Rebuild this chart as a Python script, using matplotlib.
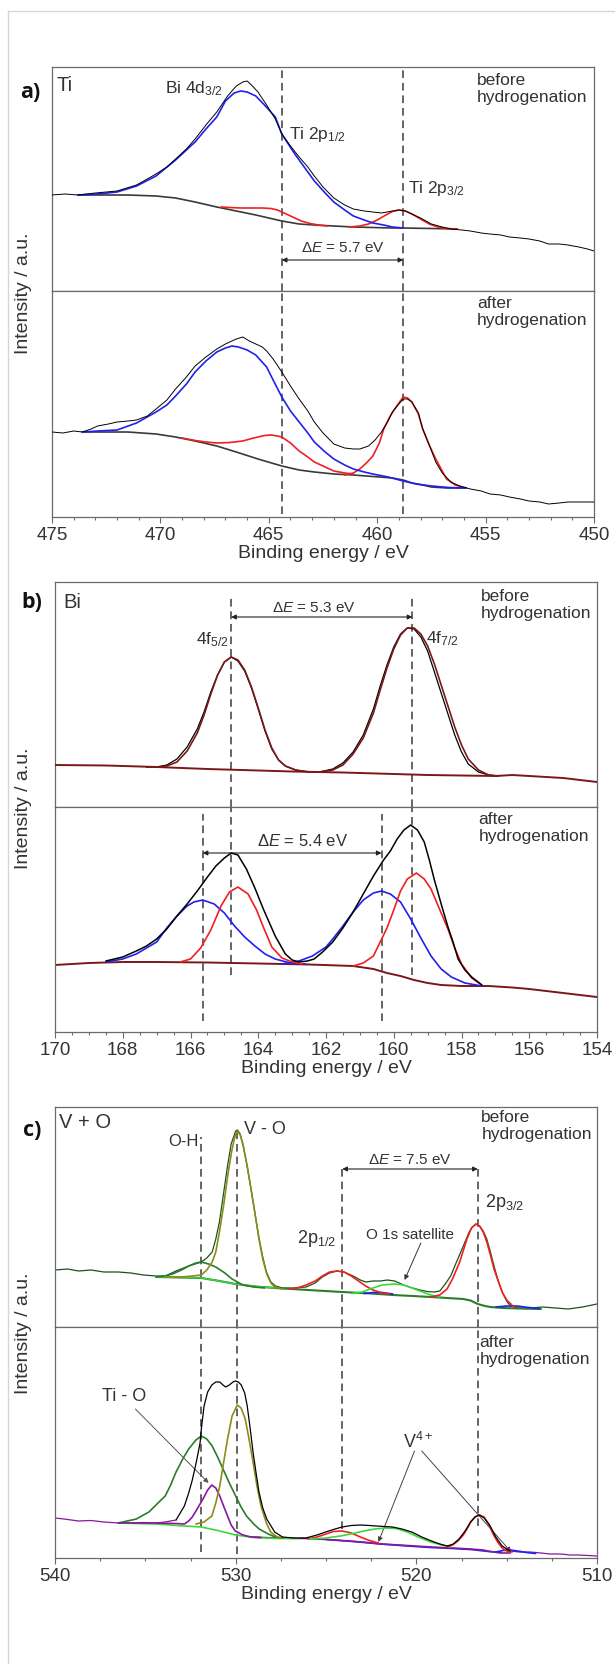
import matplotlib
matplotlib.use('Agg')
import matplotlib.pyplot as plt
from matplotlib.ticker import MultipleLocator
from matplotlib.lines import Line2D

plt.rcParams['font.family'] = ['Liberation Sans', 'DejaVu Sans']
plt.rcParams['mathtext.fontset'] = 'custom'
plt.rcParams['mathtext.rm'] = 'Liberation Sans'
plt.rcParams['mathtext.it'] = 'Liberation Sans:italic'
plt.rcParams['mathtext.bf'] = 'Liberation Sans:bold'

# ---------------- data (binding energy eV, intensity a.u.) ----------------
# Panel a, before hydrogenation
a1_data = [(475.0, 96), (474.4, 97), (473.8, 96), (473.0, 98), (472.0, 100), (471.1, 106), (470.2, 117),
           (469.7, 124), (469.3, 132), (468.8, 142), (468.4, 152), (467.9, 166), (467.4, 179), (466.9, 195),
           (466.5, 205), (466.2, 209), (466.0, 210), (465.8, 206), (465.5, 199), (465.1, 186), (464.7, 172),
           (464.4, 157), (464.0, 145), (463.6, 134), (463.2, 124), (462.9, 115), (462.5, 104), (462.0, 93),
           (461.5, 86), (461.1, 82), (460.6, 80), (460.2, 79), (459.8, 78), (459.3, 80), (459.0, 81),
           (458.7, 80), (458.4, 77), (458.0, 73), (457.5, 67), (457.0, 64), (456.6, 62), (456.1, 61),
           (455.7, 60), (455.2, 58), (454.8, 57), (454.3, 56), (453.9, 54), (453.4, 53), (453.0, 52),
           (452.5, 50), (452.1, 47), (451.6, 47), (451.2, 46), (450.7, 44), (450.3, 42), (450.0, 40)]
a1_bi4d = [(473.8, 96), (472.9, 97), (472.0, 99), (471.1, 105), (470.2, 115), (469.3, 131), (468.4, 149),
           (467.9, 162), (467.4, 174), (467.0, 190), (466.6, 198), (466.3, 200), (466.0, 199), (465.6, 195),
           (465.2, 186), (464.7, 174), (464.4, 157), (463.8, 137), (463.3, 122), (462.9, 110), (462.4, 98),
           (462.0, 89), (461.5, 81), (461.1, 75), (460.6, 71), (460.2, 68), (459.7, 66), (459.3, 64), (458.8, 63)]
a1_bg = [(473.8, 96), (471.5, 96), (470.2, 95), (469.3, 93), (468.4, 89), (467.4, 84), (466.5, 80), (465.6, 76),
         (464.4, 70), (463.6, 67), (462.9, 66), (462.0, 65), (461.1, 64), (460.2, 63.5), (459.3, 63),
         (458.8, 63), (457.5, 62.5), (456.3, 62)]
a1_ti2p12 = [(467.2, 84), (466.8, 83.5), (466.3, 83), (465.8, 83), (465.3, 83), (464.9, 82.5), (464.6, 81),
             (464.3, 78), (463.9, 74), (463.5, 70), (463.1, 67.5), (462.7, 66), (462.3, 65)]
a1_ti2p32 = [(461.3, 64), (460.8, 65), (460.4, 67), (460.0, 71), (459.6, 76), (459.3, 79.5), (459.0, 81),
             (458.7, 80), (458.4, 77), (458.0, 72), (457.6, 67), (457.2, 64), (456.8, 62.5), (456.3, 62)]

# Panel a, after hydrogenation
a2_data = [(475.0, 85), (474.5, 84), (474.0, 86), (473.6, 85), (473.2, 88), (472.9, 91), (472.4, 93),
           (472.0, 95), (471.5, 96), (471.1, 97), (470.6, 101), (470.2, 108), (469.7, 117), (469.3, 128),
           (468.8, 140), (468.4, 151), (467.9, 160), (467.4, 168), (467.0, 173), (466.5, 178), (466.2, 180),
           (465.9, 176), (465.6, 173), (465.3, 170), (465.1, 166), (464.8, 158), (464.4, 145), (464.0, 131),
           (463.6, 118), (463.2, 106), (462.9, 95), (462.5, 84), (462.0, 73), (461.5, 69), (461.1, 68),
           (460.8, 68), (460.4, 71), (460.1, 77), (459.8, 85), (459.5, 96), (459.3, 105), (459.0, 113),
           (458.8, 118), (458.6, 118), (458.4, 115), (458.1, 104), (457.9, 88), (457.6, 72), (457.3, 55),
           (457.0, 44), (456.6, 35), (456.2, 31), (455.7, 28), (455.2, 26), (454.8, 23), (454.3, 22),
           (453.9, 20), (453.4, 18), (453.0, 16), (452.5, 15), (452.1, 13), (451.6, 14), (451.2, 15),
           (450.6, 15), (450.0, 15)]
a2_bi4d = [(473.6, 85), (472.9, 86), (472.0, 87), (471.1, 94), (470.2, 105), (469.7, 112), (469.3, 121),
           (468.8, 133), (468.4, 145), (467.9, 156), (467.4, 165), (467.0, 169), (466.7, 171), (466.4, 170),
           (466.0, 167), (465.6, 162), (465.1, 150), (464.8, 137), (464.4, 120), (464.0, 106), (463.6, 95),
           (463.2, 84), (462.9, 75), (462.4, 65), (462.0, 58), (461.5, 52), (461.1, 48), (460.6, 45),
           (460.2, 43), (459.5, 40), (458.8, 36), (458.2, 33), (457.5, 31), (456.7, 29.5), (455.9, 29)]
a2_bg = [(473.6, 85), (471.5, 85), (470.2, 83), (469.3, 80), (468.4, 76), (467.4, 71), (466.5, 65), (465.5, 58),
         (464.4, 51), (463.6, 47), (462.9, 45), (462.0, 43), (461.1, 42), (460.2, 40.5), (459.3, 39),
         (458.8, 37), (458.4, 34), (457.9, 32), (457.5, 30), (456.8, 29), (455.9, 29)]
a2_ti2p12 = [(469.0, 79), (468.4, 76.5), (467.9, 75), (467.4, 74), (466.8, 74.5), (466.2, 76), (465.7, 79),
             (465.2, 81.5), (464.9, 82), (464.6, 81), (464.4, 80), (464.0, 74), (463.6, 66), (463.2, 60),
             (462.9, 55), (462.4, 50), (462.0, 46), (461.5, 44), (461.1, 43)]
a2_ti2p32 = [(461.5, 42), (461.1, 44), (460.8, 48), (460.5, 54), (460.2, 61), (459.9, 74), (459.7, 88),
             (459.4, 101), (459.1, 111), (458.8, 120), (458.6, 119), (458.4, 115), (458.1, 103), (457.9, 88),
             (457.6, 72), (457.3, 58), (457.0, 46), (456.8, 38), (456.4, 32), (455.9, 29)]

# Panel b, before hydrogenation
b1_data = [(167.3, 40), (167.0, 40), (166.7, 42), (166.4, 48), (166.1, 60), (165.8, 78), (165.6, 95),
           (165.4, 115), (165.2, 132), (165.0, 145), (164.8, 150), (164.6, 146), (164.4, 136), (164.2, 119),
           (164.0, 98), (163.8, 76), (163.6, 58), (163.4, 47), (163.2, 41), (162.9, 37), (162.5, 35),
           (162.2, 35), (161.8, 38), (161.5, 44), (161.2, 55), (160.9, 72), (160.6, 98), (160.4, 121),
           (160.2, 142), (160.0, 160), (159.8, 173), (159.6, 179), (159.4, 178), (159.2, 170), (159.0, 156),
           (158.8, 135), (158.6, 114), (158.4, 93), (158.2, 72), (158.0, 55), (157.8, 43), (157.5, 35),
           (157.2, 32), (156.9, 31)]
b1_fit = [(167.3, 40), (167.0, 40), (166.7, 41), (166.4, 45), (166.1, 56), (165.8, 74), (165.6, 92),
          (165.4, 113), (165.2, 132), (165.0, 145), (164.8, 150), (164.6, 147), (164.4, 137), (164.2, 120),
          (164.0, 99), (163.8, 77), (163.6, 59), (163.4, 47), (163.2, 41), (162.9, 37), (162.5, 35),
          (162.2, 35), (161.8, 37), (161.5, 42), (161.2, 53), (160.9, 69), (160.6, 94), (160.4, 117),
          (160.2, 139), (160.0, 158), (159.8, 172), (159.6, 179), (159.4, 179), (159.2, 173), (159.0, 161),
          (158.8, 143), (158.6, 122), (158.4, 101), (158.2, 80), (158.0, 62), (157.8, 48), (157.5, 37),
          (157.2, 32), (156.9, 31)]
b1_bg = [(170.0, 42), (168.5, 41.5), (167.0, 40), (165.5, 38), (164.5, 37), (163.0, 35.5), (161.5, 34.5),
         (160.0, 33), (159.0, 32), (158.0, 31.5), (157.0, 31), (156.5, 32), (156.0, 31), (155.0, 29),
         (154.0, 25)]

# Panel b, after hydrogenation
b2_bg = [(170.0, 67), (169.0, 69), (168.0, 70), (167.0, 70), (165.5, 69.5), (164.0, 68.5), (162.5, 67.5),
         (161.2, 66), (160.6, 63), (160.2, 59), (159.8, 56), (159.4, 52), (159.0, 49), (158.6, 47),
         (158.0, 46), (157.2, 46), (156.5, 44.5), (156.0, 43), (155.0, 39), (154.0, 35)]
b2_data = [(168.5, 71), (168.0, 75), (167.6, 81), (167.3, 86), (167.0, 93), (166.7, 103), (166.4, 116),
           (166.1, 128), (165.8, 141), (165.5, 155), (165.25, 166), (165.0, 174), (164.8, 179), (164.6, 177),
           (164.35, 163), (164.1, 144), (163.85, 123), (163.5, 96), (163.2, 78), (163.0, 72), (162.8, 70),
           (162.55, 71), (162.35, 73), (162.1, 80), (161.8, 90), (161.5, 104), (161.2, 120), (160.9, 138),
           (160.6, 156), (160.3, 172), (160.1, 181), (159.9, 193), (159.7, 202), (159.5, 207), (159.3, 202),
           (159.1, 190), (158.95, 172), (158.8, 152), (158.6, 128), (158.4, 105), (158.25, 90), (158.1, 73),
           (157.9, 62), (157.7, 55), (157.4, 47)]
b2_blue1 = [(168.5, 70), (168.0, 73), (167.6, 78), (167.0, 90), (166.7, 104), (166.4, 116), (166.1, 126),
            (165.9, 130), (165.64, 132), (165.3, 128), (165.0, 119), (164.7, 106), (164.4, 95), (164.1, 86),
            (163.8, 78), (163.5, 73), (163.0, 68.5), (162.6, 68)]
b2_red1 = [(166.3, 70), (166.0, 73), (165.7, 84), (165.4, 102), (165.1, 126), (164.85, 140), (164.6, 145),
           (164.3, 138), (164.05, 122), (163.85, 105), (163.6, 85), (163.3, 74), (163.0, 70), (162.7, 68)]
b2_blue2 = [(163.3, 68), (162.8, 71), (162.4, 76), (162.0, 85), (161.8, 93), (161.5, 106), (161.2, 120),
            (160.9, 132), (160.6, 139), (160.36, 141), (160.1, 138), (159.8, 130), (159.5, 113), (159.2, 94),
            (158.9, 76), (158.6, 63), (158.3, 55), (157.9, 49), (157.4, 46)]
b2_red2 = [(161.2, 66), (160.9, 69), (160.6, 76), (160.4, 90), (160.2, 104), (160.0, 122), (159.8, 141),
           (159.6, 153), (159.33, 159), (159.1, 153), (158.9, 143), (158.7, 127), (158.4, 103), (158.2, 84),
           (158.0, 68), (157.7, 54), (157.4, 47)]

# Panel c, before hydrogenation
c1_data = [(540.0, 57), (539.3, 58), (538.7, 56), (538.0, 57), (537.3, 55), (536.5, 55), (535.8, 54),
           (535.1, 52), (534.4, 51), (533.9, 51), (533.3, 56), (532.6, 61), (531.9, 65), (531.6, 69),
           (531.3, 75), (531.1, 88), (530.9, 105), (530.7, 130), (530.45, 161), (530.25, 183), (530.0, 196),
           (529.9, 197), (529.75, 193), (529.6, 183), (529.4, 164), (529.15, 138), (528.9, 110), (528.7, 88),
           (528.5, 70), (528.3, 55), (528.05, 45), (527.8, 41), (527.4, 39), (526.8, 39), (526.1, 40),
           (525.6, 44), (525.2, 50), (524.8, 54), (524.4, 56), (524.0, 55), (523.5, 51), (523.1, 47),
           (522.8, 45), (522.4, 46), (522.0, 46), (521.6, 47), (521.2, 46), (520.7, 42), (520.2, 39),
           (519.8, 37), (519.4, 35.5), (519.0, 35), (518.7, 36), (518.4, 43), (518.1, 51), (517.8, 64),
           (517.4, 81), (517.1, 94), (516.9, 100), (516.7, 103), (516.5, 101), (516.3, 96), (516.1, 88),
           (515.9, 75), (515.7, 61), (515.5, 48), (515.25, 35), (515.0, 26), (514.8, 21), (514.3, 19),
           (513.7, 19), (513.0, 20), (512.3, 19), (511.6, 18), (510.8, 20), (510.0, 23)]
c1_vo = [(533.9, 50), (533.0, 50), (532.4, 51), (531.9, 52), (531.6, 57), (531.3, 65), (531.1, 75), (530.9, 95),
         (530.67, 121), (530.45, 150), (530.23, 175), (530.05, 190), (529.91, 196), (529.75, 192),
         (529.58, 181), (529.35, 160), (529.15, 138), (528.9, 110), (528.71, 88), (528.5, 68), (528.28, 53),
         (528.05, 44), (527.84, 40), (527.41, 38)]
c1_oh = [(534.4, 50), (533.9, 51), (533.5, 53), (533.0, 57), (532.6, 61), (532.2, 64), (531.9, 65), (531.5, 63),
         (531.1, 60), (530.6, 54), (530.2, 48), (529.6, 42), (529.0, 40), (528.4, 39)]
c1_bg = [(534.4, 50), (533.0, 49.5), (531.9, 49), (530.9, 46), (530.0, 43), (528.9, 40.5), (527.8, 39),
         (526.0, 37), (524.1, 35), (522.5, 33.5), (521.3, 32), (520.2, 31), (519.2, 30), (518.3, 29),
         (517.4, 28), (517.0, 26.5), (516.6, 23), (516.2, 21), (515.9, 20), (515.2, 19), (514.3, 18.5),
         (513.1, 18)]
c1_v2p12 = [(527.0, 38), (526.5, 39.5), (526.1, 42), (525.6, 46), (525.2, 51), (524.8, 55), (524.4, 56),
            (524.0, 55), (523.6, 51), (523.2, 46), (522.8, 41), (522.4, 37), (521.9, 34), (521.5, 33)]
c1_sat = [(523.6, 33.5), (523.0, 35), (522.4, 39), (521.9, 42), (521.2, 43), (520.7, 42), (520.25, 39),
          (519.8, 36), (519.2, 32), (518.7, 30)]
c1_v4a = [(522.9, 33.5), (522.4, 34.5), (521.9, 34.5), (521.3, 33)]
c1_v4b = [(515.6, 20), (515.0, 21), (514.4, 21), (513.8, 19.5), (513.2, 18.5)]
c1_v2p32 = [(519.2, 30), (518.7, 32), (518.3, 38), (518.0, 48), (517.6, 65), (517.2, 88), (516.95, 99),
            (516.7, 103), (516.5, 101), (516.3, 95), (516.1, 85), (515.9, 72), (515.7, 58), (515.45, 45),
            (515.25, 35), (515.0, 27), (514.6, 20)]

# Panel c, after hydrogenation
c2_data_left = [(540.0, 40), (539.5, 39), (538.7, 37), (538.0, 37.5), (537.3, 36), (536.5, 35), (535.8, 35),
                (535.1, 35.5), (534.4, 35), (533.9, 36), (533.3, 38)]
c2_data = [(533.3, 38), (532.84, 52), (532.6, 65), (532.4, 78), (532.19, 95), (531.97, 115), (531.9, 129),
           (531.75, 152), (531.55, 166), (531.32, 173), (531.1, 176), (530.88, 176), (530.7, 173),
           (530.56, 171), (530.35, 173), (530.15, 176), (530.02, 177), (529.85, 176), (529.69, 173),
           (529.5, 165), (529.36, 152), (529.2, 130), (529.04, 106), (528.87, 85), (528.71, 66), (528.5, 50),
           (528.28, 39), (527.84, 26), (527.41, 21), (526.8, 20), (526.11, 20), (525.5, 23), (525.02, 26),
           (524.5, 29), (524.11, 31), (523.6, 32.5), (523.07, 33), (522.6, 32.5), (522.2, 32), (521.8, 31.5),
           (521.33, 31), (520.8, 29), (520.25, 26), (519.7, 21), (519.16, 17), (518.7, 14), (518.29, 12),
           (517.95, 14), (517.64, 19), (517.3, 27), (516.99, 36), (516.75, 41), (516.51, 43), (516.25, 40),
           (515.91, 32), (515.6, 21), (515.25, 12), (514.82, 7)]
c2_data_right = [(514.82, 7), (514.3, 6), (513.7, 6), (513.1, 5), (512.6, 4), (512.0, 4), (511.5, 3),
                 (511.0, 3), (510.5, 2.5), (510.0, 2)]
c2_oh = [(536.5, 35), (535.5, 39), (534.8, 46), (534.3, 55), (533.9, 62), (533.6, 73), (533.3, 86), (532.9, 100),
         (532.6, 109), (532.2, 118), (531.9, 122), (531.6, 119), (531.3, 112), (531.0, 101), (530.7, 89),
         (530.35, 75), (530.0, 62), (529.7, 51), (529.4, 42), (529.0, 34), (528.7, 29), (528.2, 24),
         (527.8, 21), (527.4, 20)]
c2_tio = [(536.5, 35), (534.5, 35), (533.3, 34.5), (532.84, 34), (532.6, 37), (532.4, 41), (532.2, 47),
          (531.97, 54), (531.75, 61), (531.55, 68), (531.32, 73), (531.1, 70), (530.88, 62), (530.67, 52),
          (530.45, 42), (530.25, 33), (530.02, 27), (529.6, 23), (529.15, 21), (528.6, 20.5)]
c2_vo = [(532.2, 34), (531.75, 36), (531.32, 42), (531.1, 55), (530.88, 72), (530.67, 95), (530.45, 119),
         (530.2, 142), (529.91, 153), (529.7, 150), (529.47, 139), (529.25, 118), (529.04, 96), (528.82, 72),
         (528.6, 52), (528.3, 35), (528.06, 26), (527.7, 21), (527.41, 20)]
c2_bg_green = [(536.5, 35), (534.4, 34), (532.84, 32), (531.9, 31), (531.0, 27.5), (530.0, 23), (529.0, 20.5),
               (527.8, 19.5), (526.5, 19.5)]
c2_bg_purple = [(529.15, 21), (527.8, 20), (526.0, 19.5), (524.5, 18), (523.0, 16), (521.9, 14), (520.5, 12.5),
                (519.2, 11), (518.0, 10), (517.0, 9), (516.3, 8), (515.9, 6.5), (515.3, 5), (514.8, 5)]
c2_v2p12 = [(526.0, 19), (525.5, 21), (525.0, 24), (524.6, 26.5), (524.1, 27), (523.6, 25), (523.1, 21),
            (522.6, 17.5), (522.1, 15)]
c2_sat = [(525.9, 19), (525.0, 20), (524.2, 22), (523.5, 24.5), (522.9, 27), (522.3, 29), (521.7, 30),
          (521.1, 29.5), (520.5, 26), (519.9, 21), (519.2, 16), (518.6, 13), (518.1, 11)]
c2_v4a = [(525.0, 18.5), (523.5, 16.5), (522.0, 14), (520.5, 12), (519.2, 10.5), (518.0, 9.5), (517.0, 8.5),
          (516.0, 6.5), (515.3, 5.5)]
c2_v4b = [(515.6, 6), (515.2, 7.5), (514.8, 8), (514.4, 7), (513.9, 5.5), (513.4, 4.5)]
c2_v2p32 = [(518.3, 11), (518.0, 13), (517.7, 17), (517.4, 23), (517.2, 29), (517.0, 36), (516.75, 41),
            (516.51, 43), (516.25, 41), (516.0, 34), (515.75, 24), (515.5, 16), (515.25, 10), (515.0, 7),
            (514.7, 6)]

# reference lines (eV)
a_lines = [464.4, 458.8]
b_lines_top = [164.8, 159.45]
b_lines_bot = [165.64, 160.36]
c_lines = [531.9, 529.9, 524.1, 516.6]

# ---------------- figure ----------------
W, H = 615, 1665
fig = plt.figure(figsize=(W / 100, H / 100), dpi=100)
fig.patch.set_facecolor('white')

TXT = '#333333'
SPINE = '#6a6a6a'
BLUE = '#2020f0'
RED = '#f02020'
DKRED = '#7a1818'
OLIVE = '#8c8c1c'
DKGREEN = '#2c7c2c'
LTGREEN = '#3ad83a'
PURPLE = '#88189c'
DGREEN_DATA = '#1d521d'
DASH = (0, (5, 3.2))


def add_ax(l, t, r, b):
    return fig.add_axes([l / W, 1 - b / H, (r - l) / W, (b - t) / H])


def setup(ax, xlim, ytop, bottom, major=None, minor=None):
    ax.set_xlim(*xlim)
    ax.set_ylim(0, ytop)
    ax.set_yticks([])
    for s in ax.spines.values():
        s.set_color(SPINE)
        s.set_linewidth(0.9)
    if bottom:
        ax.xaxis.set_major_locator(MultipleLocator(major))
        ax.xaxis.set_minor_locator(MultipleLocator(minor))
        ax.tick_params(axis='x', which='major', direction='out', length=4.5, width=0.8,
                       color=SPINE, labelsize=13.5, labelcolor=TXT, pad=2)
        ax.tick_params(axis='x', which='minor', direction='out', length=2.3, width=0.8, color=SPINE)
        ax.set_xlabel('Binding energy / eV', fontsize=14, color=TXT, labelpad=1)
    else:
        ax.set_xticks([])
        ax.xaxis.set_minor_locator(MultipleLocator(1000))
        ax.tick_params(axis='x', which='both', length=0)


def curve(ax, pts, color, lw=1.2, z=2):
    e, v = zip(*pts)
    ax.plot(e, v, color=color, lw=lw, zorder=z, solid_joinstyle='round', solid_capstyle='round')


def vdash(ax, x, ymin, ymax):
    ax.axvline(x, ymin=ymin, ymax=ymax, color='#3a3a3a', lw=1.1, ls=DASH, zorder=1)


def darrow(ax, x1, x2, y):
    ax.annotate('', xy=(x2, y), xytext=(x1, y),
                arrowprops=dict(arrowstyle='<|-|>', lw=0.8, color='#222222', mutation_scale=7,
                                shrinkA=0, shrinkB=0))


def pointer(ax, xy, xytext, color='#444444'):
    ax.annotate('', xy=xy, xytext=xytext,
                arrowprops=dict(arrowstyle='-|>', lw=0.7, color=color, mutation_scale=7,
                                shrinkA=0, shrinkB=0))


# ---------- panel a ----------
axa1 = add_ax(52, 68, 594, 292)
axa2 = add_ax(52, 292, 594, 518)
setup(axa1, (475, 450), 224, False)
setup(axa2, (475, 450), 226, True, 5, 1)

curve(axa1, a1_bg, '#3a3a3a')
curve(axa1, a1_ti2p12, RED)
curve(axa1, a1_ti2p32, RED)
curve(axa1, a1_bi4d, BLUE)
curve(axa1, a1_data, 'black', lw=0.7, z=3)
curve(axa2, a2_bg, '#3a3a3a')
curve(axa2, a2_ti2p12, RED)
curve(axa2, a2_ti2p32, RED)
curve(axa2, a2_bi4d, BLUE)
curve(axa2, a2_data, 'black', lw=0.7, z=3)
for x in a_lines:
    vdash(axa1, x, 0, 0.99)
    vdash(axa2, x, 0.013, 1)
darrow(axa1, a_lines[0], a_lines[1], 31)
axa1.text((a_lines[0] + a_lines[1]) / 2, 44, r'Δ$E$ = 5.7 eV', ha='center', va='center', fontsize=11, color=TXT)
axa1.text(0.009, 0.965, 'Ti', transform=axa1.transAxes, ha='left', va='top', fontsize=14.5, color=TXT)
axa1.text(469.8, 194, r'Bi 4d$_{3/2}$', ha='left', va='bottom', fontsize=12.5, color=TXT)
axa1.text(464.05, 148, r'Ti 2p$_{1/2}$', ha='left', va='bottom', fontsize=12.5, color=TXT)
axa1.text(458.6, 94, r'Ti 2p$_{3/2}$', ha='left', va='bottom', fontsize=12.5, color=TXT)
axa1.text(455.4, 219, 'before\nhydrogenation', ha='left', va='top', fontsize=12.5, color=TXT, linespacing=1.15)
axa2.text(455.4, 222, 'after\nhydrogenation', ha='left', va='top', fontsize=12.5, color=TXT, linespacing=1.15)

# ---------- panel b ----------
axb1 = add_ax(55, 583, 597, 808)
axb2 = add_ax(55, 808, 597, 1033)
setup(axb1, (170, 154), 225, False)
setup(axb2, (170, 154), 225, True, 2, 0.5)

curve(axb1, b1_data, 'black', lw=0.9, z=2)
curve(axb1, b1_fit, DKRED, lw=1.2, z=3)
curve(axb1, b1_bg, DKRED, lw=1.4, z=3)
curve(axb2, b2_bg, DKRED, lw=1.4, z=2)
curve(axb2, b2_blue1, BLUE, z=3)
curve(axb2, b2_blue2, BLUE, z=3)
curve(axb2, b2_red1, RED, z=3)
curve(axb2, b2_red2, RED, z=3)
curve(axb2, b2_data, 'black', lw=1.1, z=4)
for x in b_lines_top:
    vdash(axb1, x, 0, 0.938)
    vdash(axb2, x, 0.253, 1)
for x in b_lines_bot:
    vdash(axb2, x, 0.049, 0.969)
darrow(axb1, b_lines_top[0], b_lines_top[1], 190)
axb1.text(162.36, 200, r'Δ$E$ = 5.3 eV', ha='center', va='center', fontsize=11, color=TXT)
darrow(axb2, b_lines_bot[0], b_lines_bot[1], 179)
axb2.text(162.7, 192, r'Δ$E$ = 5.4 eV', ha='center', va='center', fontsize=12, color=TXT)
axb1.text(0.015, 0.955, 'Bi', transform=axb1.transAxes, ha='left', va='top', fontsize=14.5, color=TXT)
axb1.text(164.88, 159, r'4f$_{5/2}$', ha='right', va='bottom', fontsize=12.5, color=TXT)
axb1.text(159.05, 160, r'4f$_{7/2}$', ha='left', va='bottom', fontsize=12.5, color=TXT)
axb1.text(157.44, 219, 'before\nhydrogenation', ha='left', va='top', fontsize=12.5, color=TXT, linespacing=1.15)
axb2.text(157.5, 221, 'after\nhydrogenation', ha='left', va='top', fontsize=12.5, color=TXT, linespacing=1.15)

# ---------- panel c ----------
axc1 = add_ax(55, 1108, 597, 1328)
axc2 = add_ax(55, 1328, 597, 1559)
setup(axc1, (540, 510), 220, False)
setup(axc2, (540, 510), 231, True, 10, 2.5)

curve(axc1, c1_data, DGREEN_DATA, lw=0.9, z=2)
curve(axc1, c1_bg, DKGREEN, lw=1.5, z=3)
curve(axc1, [p for p in c1_bg if p[0] >= 527.8], LTGREEN, lw=1.0, z=3)
curve(axc1, c1_oh, DKGREEN, z=4)
curve(axc1, c1_vo, OLIVE, z=4)
curve(axc1, c1_v2p12, RED, z=4)
curve(axc1, c1_sat, LTGREEN, z=4)
curve(axc1, c1_v4a, BLUE, z=3)
curve(axc1, c1_v4b, BLUE, z=3)
curve(axc1, c1_v2p32, RED, z=4)

curve(axc2, c2_data_left, PURPLE, lw=0.9, z=2)
curve(axc2, c2_data_right, PURPLE, lw=0.9, z=2)
curve(axc2, c2_v4a, BLUE, lw=1.2, z=2)
curve(axc2, c2_bg_purple, PURPLE, lw=1.2, z=3)
curve(axc2, c2_bg_green, LTGREEN, z=3)
curve(axc2, c2_oh, DKGREEN, z=4)
curve(axc2, c2_tio, PURPLE, z=4)
curve(axc2, c2_vo, OLIVE, z=4)
curve(axc2, c2_v2p12, RED, z=4)
curve(axc2, c2_sat, LTGREEN, z=4)
curve(axc2, c2_v4b, BLUE, z=4)
curve(axc2, c2_v2p32, RED, z=4)
curve(axc2, c2_data, 'black', lw=0.9, z=5)

c_top_ymax = [0.864, 0.9, 0.718, 0.732]
c_bot_ymin = [0.026, 0.017, 0.126, 0.14]
for x, yt, yb in zip(c_lines, c_top_ymax, c_bot_ymin):
    vdash(axc1, x, 0, yt)
    vdash(axc2, x, yb, 1)
darrow(axc1, c_lines[2], c_lines[3], 158)
axc1.text(520.36, 168, r'Δ$E$ = 7.5 eV', ha='center', va='center', fontsize=11, color=TXT)
axc1.text(0.007, 0.975, 'V + O', transform=axc1.transAxes, ha='left', va='top', fontsize=14.5, color=TXT)
axc1.text(532.05, 187, 'O-H', ha='right', va='center', fontsize=12, color=TXT)
axc1.text(529.55, 199, 'V - O', ha='left', va='center', fontsize=13, color=TXT)
axc1.text(524.45, 79, r'2p$_{1/2}$', ha='right', va='bottom', fontsize=13, color=TXT)
axc1.text(516.2, 115, r'2p$_{3/2}$', ha='left', va='bottom', fontsize=13, color=TXT)
axc1.text(520.36, 93, 'O 1s satellite', ha='center', va='center', fontsize=11, color=TXT)
pointer(axc1, (520.65, 47), (519.75, 84), color='#333333')
axc1.text(516.4, 218, 'before\nhydrogenation', ha='left', va='top', fontsize=12.5, color=TXT, linespacing=1.15)
axc2.text(516.5, 224, 'after\nhydrogenation', ha='left', va='top', fontsize=12.5, color=TXT, linespacing=1.15)
axc2.text(536.2, 162, 'Ti - O', ha='center', va='center', fontsize=13, color=TXT)
pointer(axc2, (531.5, 75), (535.55, 149), color='#555555')
axc2.text(519.9, 117, r'V$^{4+}$', ha='center', va='center', fontsize=13, color=TXT)
pointer(axc2, (522.1, 16), (520.1, 107), color='#444444')
pointer(axc2, (514.75, 6), (519.7, 107), color='#444444')

# ---------- figure-level labels ----------
for yc in [(68 + 518) / 2, (583 + 1033) / 2, (1108 + 1559) / 2]:
    fig.text(24 / W, 1 - yc / H, 'Intensity / a.u.', rotation=90, ha='center', va='center',
             fontsize=14, color=TXT)
for lab, (xc, yc) in zip(['a)', 'b)', 'c)'], [(30, 93), (32, 603), (32, 1131)]):
    fig.text(xc / W, 1 - yc / H, lab, ha='center', va='center', fontsize=15.5,
             fontweight='bold', color='#111111', family=['Open Sans', 'DejaVu Sans'])

# light page frame
fig.add_artist(Line2D([8 / W, 8 / W], [0, 1 - 12 / H], transform=fig.transFigure, color='#d6d6d6', lw=1))
fig.add_artist(Line2D([8 / W, 1], [1 - 12 / H, 1 - 12 / H], transform=fig.transFigure, color='#d6d6d6', lw=1))

fig.savefig('out.png', dpi=100)
